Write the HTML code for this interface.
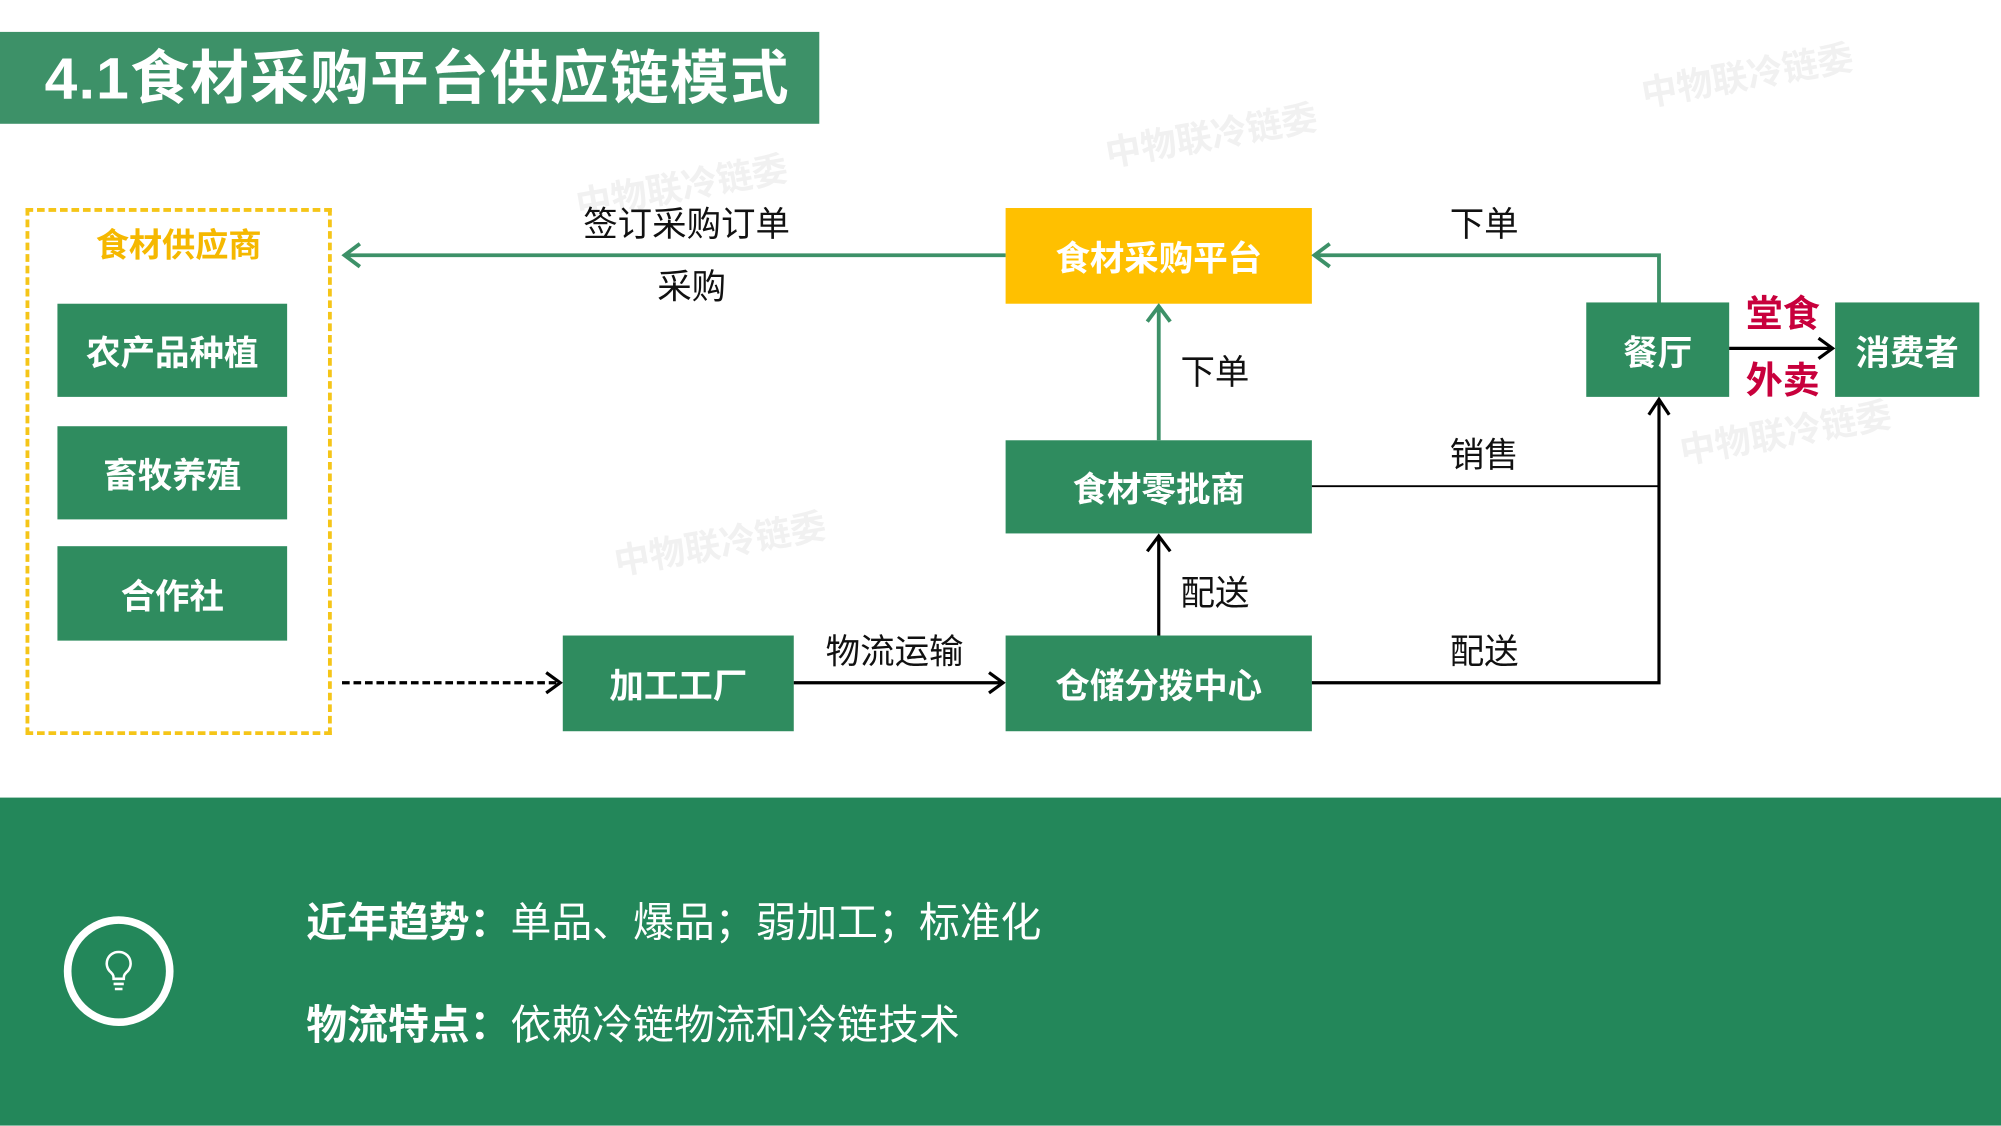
<!DOCTYPE html>
<html><head><meta charset="utf-8"><style>
html,body{margin:0;padding:0;background:#fff;overflow:hidden}
#w{width:1568px;height:882px;position:relative;transform:scale(1.27615);transform-origin:0 0;font-family:"Liberation Sans","Noto Sans CJK SC",sans-serif}
.b{position:absolute;background:#2f8c5f;color:#fff;font-weight:bold;font-size:27px;display:flex;align-items:center;justify-content:center}
.t{position:absolute;font-size:27px;color:#111;line-height:1}
.wm{position:absolute;color:#f1f1f1;font-size:28px;font-weight:bold;transform:rotate(-10deg)}
</style></head><body><div id="w">
<div class="wm" style="left:450px;top:125px">中物联冷链委</div>
<div class="wm" style="left:865px;top:85px">中物联冷链委</div>
<div class="wm" style="left:1285px;top:38px">中物联冷链委</div>
<div class="wm" style="left:480px;top:405px">中物联冷链委</div>
<div class="wm" style="left:1315px;top:318px">中物联冷链委</div>
<div style="position:absolute;left:0;top:25px;width:642px;height:72px;background:#3d9168;color:#fff;font-weight:bold;font-size:46px;line-height:72px;padding-left:35px;box-sizing:border-box;letter-spacing:1px">4.1食材采购平台供应链模式</div>
<div style="position:absolute;left:20px;top:163px;width:240px;height:413px;border:3px dashed #f5c518;box-sizing:border-box"></div>
<div style="position:absolute;left:20px;width:240px;top:172px;text-align:center;color:#f5b800;font-weight:bold;font-size:26px">食材供应商</div>
<div class="b" style="left:45px;top:238px;width:180px;height:73px">农产品种植</div>
<div class="b" style="left:45px;top:334px;width:180px;height:73px">畜牧养殖</div>
<div class="b" style="left:45px;top:428px;width:180px;height:74px">合作社</div>
<div class="b" style="left:441px;top:498px;width:181px;height:75px">加工工厂</div>
<div class="b" style="left:788px;top:498px;width:240px;height:75px">仓储分拨中心</div>
<div class="b" style="left:788px;top:345px;width:240px;height:73px">食材零批商</div>
<div class="b" style="left:788px;top:163px;width:240px;height:75px;background:#ffc000">食材采购平台</div>
<div class="b" style="left:1243px;top:237px;width:112px;height:74px">餐厅</div>
<div class="b" style="left:1438px;top:237px;width:113px;height:74px">消费者</div>
<svg style="position:absolute;left:0;top:0" width="1568" height="882" fill="none">
<g stroke="#3d9168" stroke-width="3">
<path d="M788 200H270M282 191L270 200L282 209"/>
<path d="M1300 237V200H1030M1042 191L1030 200L1042 209"/>
<path d="M908 345V240M899 252L908 240L917 252"/>
</g>
<g stroke="#000" stroke-width="2.5">
<path d="M908 498V420M899 432L908 420L917 432"/>
<path d="M268 535H439" stroke-dasharray="6 3"/><path d="M428 527L439 535L428 543"/>
<path d="M622 535H786M775 527L786 535L775 543"/>
<path d="M1028 535H1300V313M1292 325L1300 313L1308 325"/>
<path d="M1028 381H1300" stroke-width="1.5"/>
<path d="M1355 273H1436M1425 265L1436 273L1425 281"/>
</g>
</svg>
<div class="t" style="left:457px;top:163px">签订采购订单</div>
<div class="t" style="left:515px;top:212px">采购</div>
<div class="t" style="left:1136px;top:163px">下单</div>
<div class="t" style="left:925px;top:279px">下单</div>
<div class="t" style="left:1136px;top:344px">销售</div>
<div class="t" style="left:925px;top:452px">配送</div>
<div class="t" style="left:647px;top:498px">物流运输</div>
<div class="t" style="left:1136px;top:498px">配送</div>
<div class="t" style="left:1368px;top:233px;color:#c8003c;font-weight:bold;font-size:29px">堂食</div>
<div class="t" style="left:1368px;top:285px;color:#c8003c;font-weight:bold;font-size:29px">外卖</div>
<div style="position:absolute;left:0;top:625px;width:1568px;height:257px;background:#23875a"></div>
<div style="position:absolute;left:50px;top:718px;width:86px;height:86px;border:6px solid #fff;border-radius:50%;box-sizing:border-box"></div>
<svg style="position:absolute;left:78px;top:743px" width="30" height="36" fill="none" stroke="#fff" stroke-width="2"><path d="M15 3a9 9 0 0 0-6 16c2 2 2 3 2 5h8c0-2 0-3 2-5a9 9 0 0 0-6-16zM11 28h8M12 32h6"/></svg>
<div style="position:absolute;left:240px;top:698px;color:#fff;font-size:32px"><b>近年趋势：</b>单品、爆品；弱加工；标准化</div>
<div style="position:absolute;left:240px;top:778px;color:#fff;font-size:32px"><b>物流特点：</b>依赖冷链物流和冷链技术</div>
</div></body></html>
